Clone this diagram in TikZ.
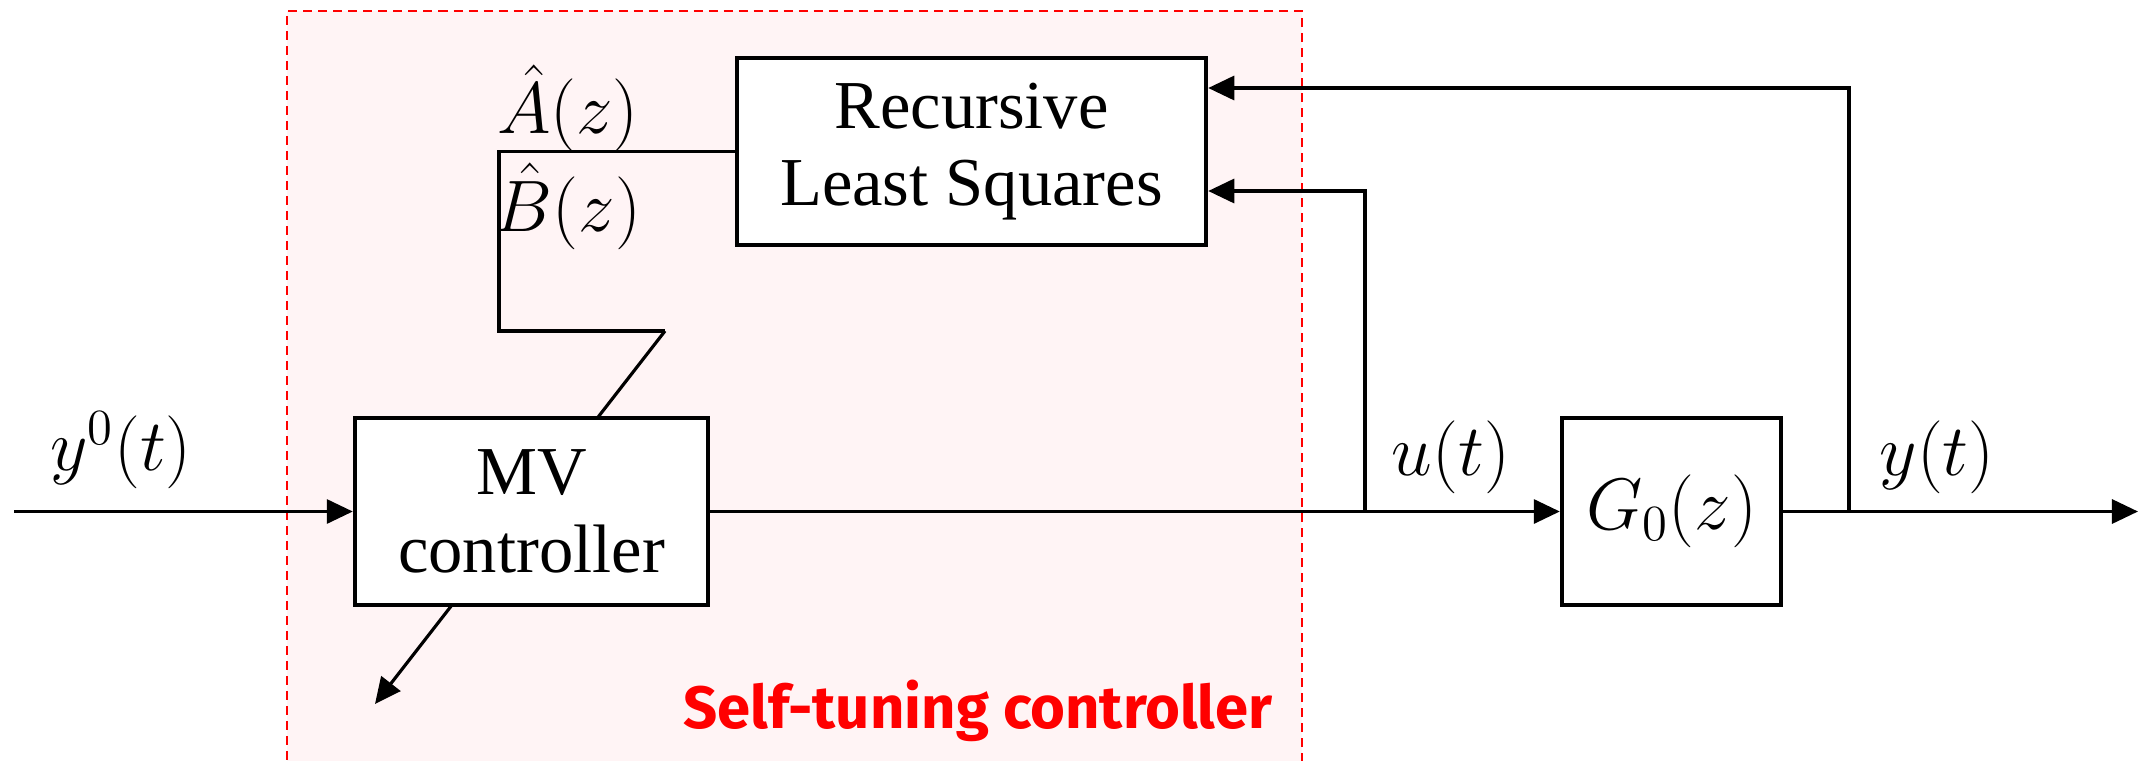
\documentclass[tikz,border=0pt]{standalone}
\usepackage{fontspec}
\setmainfont{Liberation Serif}
\newfontfamily\tagfont{Fira Sans}
\usetikzlibrary{arrows.meta}
\definecolor{tintpink}{RGB}{255,244,245}
\definecolor{tagred}{RGB}{255,0,0}
\begin{document}
\begin{tikzpicture}[x=0.01cm,y=-0.01cm,
  blk/.style={draw,line width=1.2pt,fill=white,minimum height=1.87cm,
    align=center,inner sep=0pt,font=\fontsize{19.5}{22}\selectfont},
  sig/.style={line width=0.9pt},
  arr/.style={sig,-{Triangle[length=0.26cm,width=0.24cm]}},
  lbl/.style={inner sep=0pt,font=\fontsize{20}{22}\selectfont},
  tagline/.style={inner sep=0pt,text=tagred,font=\tagfont\bfseries\fontsize{17}{20}\selectfont}]
\clip (0,0) rectangle (2156,760);

% self-tuning region
\fill[tintpink] (287,11) rectangle (1302,790);
\draw[tagred,line width=0.6pt,dash pattern=on 0.09cm off 0.06cm]
  (287,790) -- (287,11) -- (1302,11) -- (1302,790);

% estimator
\node[blk,minimum width=4.69cm] (rls) at (971.5,151.5) {Recursive\\Least Squares};

% parameter path into the controller
\coordinate (tl) at (499,151.5);
\coordinate (bl) at (499,331);
\coordinate (br) at (665,331);
\coordinate (tip) at (375,704);
\draw[sig] (rls.west) -- (tl) -- (bl) -- (br);
\draw[arr] (br) -- (tip);

% controller and plant
\node[blk,minimum width=3.53cm] (mv) at (531.5,511.5) {MV\\controller};
\node[blk,minimum width=2.19cm] (g0) at (1671.5,511.5) {$G_0(z)$};

% signal lines
\coordinate (in) at (14,511.5);
\coordinate (ubr) at (1365,511.5);
\coordinate (ybr) at (1849,511.5);
\coordinate (out) at (2138,511.5);
\coordinate (ufb) at (1365,191);
\coordinate (yfb) at (1849,88);
\draw[arr] (in) -- (mv.west);
\draw[sig] (mv.east) -- (ubr);
\draw[arr] (ubr) -- (g0.west);
\draw[arr] (ubr) -- (ufb) -- (ufb -| rls.east);
\draw[arr] (g0.east) -- (out);
\draw[arr] (ybr) -- (yfb) -- (yfb -| rls.east);

% labels
\node[lbl] (ahat) at (568,108) {$\hat{A}(z)$};
\node[lbl] (bhat) at (568,206) {$\hat{B}(z)$};
\node[lbl] (yref) at (121,450) {$y^0(t)$};
\node[lbl] (ulab) at (1451,457) {$u(t)$};
\node[lbl] (ylab) at (1937,457) {$y(t)$};
\node[tagline] (tag) at (978,711) {Self-tuning controller};
\end{tikzpicture}
\end{document}
